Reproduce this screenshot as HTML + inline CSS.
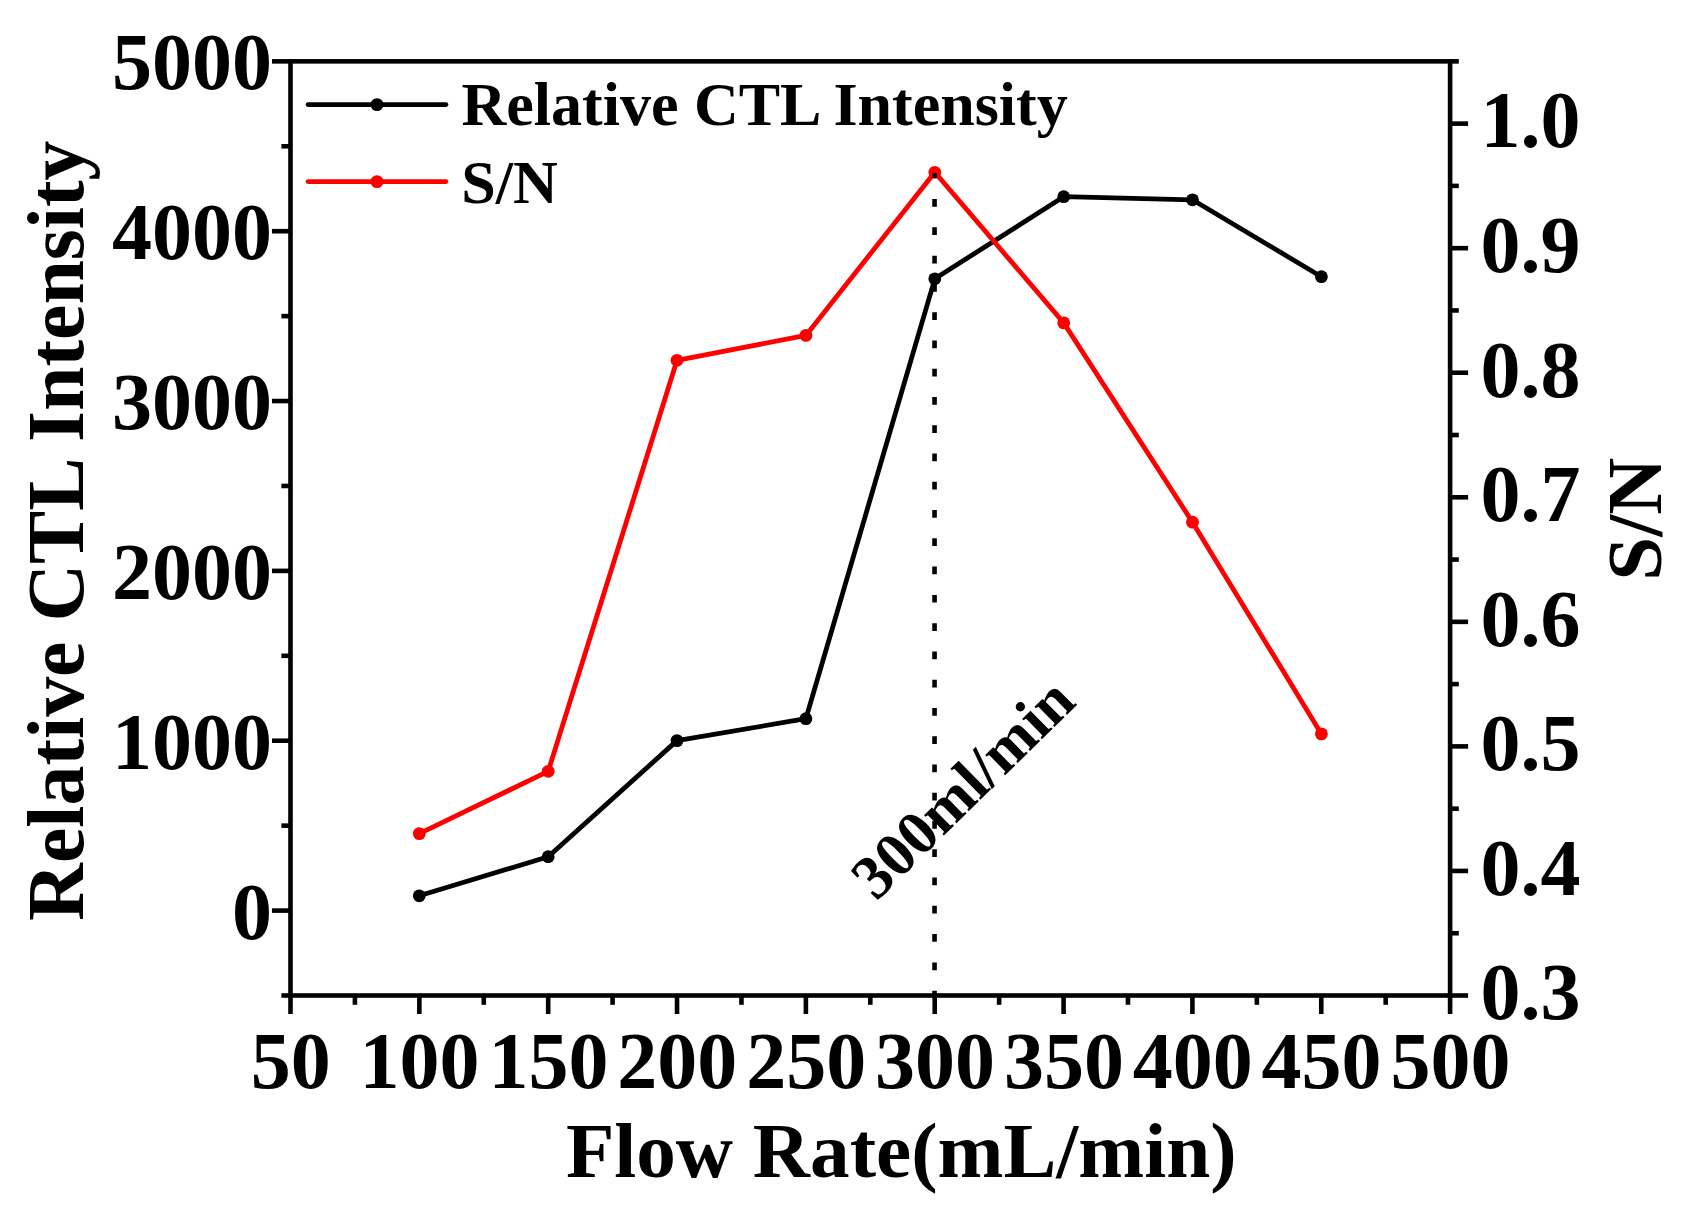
<!DOCTYPE html>
<html><head><meta charset="utf-8"><title>Flow Rate</title>
<style>
html,body{margin:0;padding:0;background:#fff;}
svg{display:block;}
text{font-family:"Liberation Serif","Times New Roman",serif;font-weight:bold;fill:#000;}
.t80{font-size:80px;}
.t62{font-size:62px;}
</style></head><body>
<svg width="1685" height="1209" viewBox="0 0 1685 1209">
<rect width="1685" height="1209" fill="#fff"/>

<g stroke="#000" stroke-width="4.6" fill="none" stroke-linecap="butt">
<rect x="290.5" y="61.35" width="1159.60" height="934.15"/>
<line x1="290.50" y1="995.5" x2="290.50" y2="1014.0"/>
<line x1="354.92" y1="995.5" x2="354.92" y2="1004.8"/>
<line x1="419.34" y1="995.5" x2="419.34" y2="1014.0"/>
<line x1="483.77" y1="995.5" x2="483.77" y2="1004.8"/>
<line x1="548.19" y1="995.5" x2="548.19" y2="1014.0"/>
<line x1="612.61" y1="995.5" x2="612.61" y2="1004.8"/>
<line x1="677.03" y1="995.5" x2="677.03" y2="1014.0"/>
<line x1="741.46" y1="995.5" x2="741.46" y2="1004.8"/>
<line x1="805.88" y1="995.5" x2="805.88" y2="1014.0"/>
<line x1="870.30" y1="995.5" x2="870.30" y2="1004.8"/>
<line x1="934.72" y1="995.5" x2="934.72" y2="1014.0"/>
<line x1="999.14" y1="995.5" x2="999.14" y2="1004.8"/>
<line x1="1063.57" y1="995.5" x2="1063.57" y2="1014.0"/>
<line x1="1127.99" y1="995.5" x2="1127.99" y2="1004.8"/>
<line x1="1192.41" y1="995.5" x2="1192.41" y2="1014.0"/>
<line x1="1256.83" y1="995.5" x2="1256.83" y2="1004.8"/>
<line x1="1321.26" y1="995.5" x2="1321.26" y2="1014.0"/>
<line x1="1385.68" y1="995.5" x2="1385.68" y2="1004.8"/>
<line x1="1450.10" y1="995.5" x2="1450.10" y2="1014.0"/>
<line x1="290.5" y1="995.50" x2="281.4" y2="995.50"/>
<line x1="290.5" y1="910.58" x2="272.0" y2="910.58"/>
<line x1="290.5" y1="825.65" x2="281.4" y2="825.65"/>
<line x1="290.5" y1="740.73" x2="272.0" y2="740.73"/>
<line x1="290.5" y1="655.81" x2="281.4" y2="655.81"/>
<line x1="290.5" y1="570.89" x2="272.0" y2="570.89"/>
<line x1="290.5" y1="485.96" x2="281.4" y2="485.96"/>
<line x1="290.5" y1="401.04" x2="272.0" y2="401.04"/>
<line x1="290.5" y1="316.12" x2="281.4" y2="316.12"/>
<line x1="290.5" y1="231.20" x2="272.0" y2="231.20"/>
<line x1="290.5" y1="146.27" x2="281.4" y2="146.27"/>
<line x1="290.5" y1="61.35" x2="272.0" y2="61.35"/>
<line x1="1450.1" y1="995.50" x2="1468.1" y2="995.50"/>
<line x1="1450.1" y1="933.22" x2="1458.8" y2="933.22"/>
<line x1="1450.1" y1="870.95" x2="1468.1" y2="870.95"/>
<line x1="1450.1" y1="808.67" x2="1458.8" y2="808.67"/>
<line x1="1450.1" y1="746.39" x2="1468.1" y2="746.39"/>
<line x1="1450.1" y1="684.12" x2="1458.8" y2="684.12"/>
<line x1="1450.1" y1="621.84" x2="1468.1" y2="621.84"/>
<line x1="1450.1" y1="559.56" x2="1458.8" y2="559.56"/>
<line x1="1450.1" y1="497.29" x2="1468.1" y2="497.29"/>
<line x1="1450.1" y1="435.01" x2="1458.8" y2="435.01"/>
<line x1="1450.1" y1="372.73" x2="1468.1" y2="372.73"/>
<line x1="1450.1" y1="310.46" x2="1458.8" y2="310.46"/>
<line x1="1450.1" y1="248.18" x2="1468.1" y2="248.18"/>
<line x1="1450.1" y1="185.90" x2="1458.8" y2="185.90"/>
<line x1="1450.1" y1="123.63" x2="1468.1" y2="123.63"/>
<line x1="1450.1" y1="61.35" x2="1458.8" y2="61.35"/>
</g>
<polyline points="419.3,895.8 548.2,856.7 677.0,740.6 805.9,718.7 934.8,278.8 1063.7,196.7 1192.5,199.8 1321.4,276.7" fill="none" stroke="#000" stroke-width="4.8" stroke-linejoin="round"/>
<circle cx="419.3" cy="895.8" r="6.4" fill="#000"/>
<circle cx="548.2" cy="856.7" r="6.4" fill="#000"/>
<circle cx="677.0" cy="740.6" r="6.4" fill="#000"/>
<circle cx="805.9" cy="718.7" r="6.4" fill="#000"/>
<circle cx="934.8" cy="278.8" r="6.4" fill="#000"/>
<circle cx="1063.7" cy="196.7" r="6.4" fill="#000"/>
<circle cx="1192.5" cy="199.8" r="6.4" fill="#000"/>
<circle cx="1321.4" cy="276.7" r="6.4" fill="#000"/>
<polyline points="419.3,833.6 548.2,771.3 677.0,360.3 805.9,335.4 934.8,172.3 1063.7,322.9 1192.5,522.2 1321.4,733.9" fill="none" stroke="#ff0000" stroke-width="4.8" stroke-linejoin="round"/>
<circle cx="419.3" cy="833.6" r="6.4" fill="#ff0000"/>
<circle cx="548.2" cy="771.3" r="6.4" fill="#ff0000"/>
<circle cx="677.0" cy="360.3" r="6.4" fill="#ff0000"/>
<circle cx="805.9" cy="335.4" r="6.4" fill="#ff0000"/>
<circle cx="934.8" cy="172.3" r="6.4" fill="#ff0000"/>
<circle cx="1063.7" cy="322.9" r="6.4" fill="#ff0000"/>
<circle cx="1192.5" cy="522.2" r="6.4" fill="#ff0000"/>
<circle cx="1321.4" cy="733.9" r="6.4" fill="#ff0000"/>
<line x1="934.55" y1="173.3" x2="934.55" y2="177.9" stroke="#000" stroke-width="4.6"/>
<line x1="934.55" y1="199.1" x2="934.55" y2="995.5" stroke="#000" stroke-width="4.6" stroke-dasharray="7.74 20.53"/>
<line x1="308" y1="104.6" x2="446" y2="104.6" stroke="#000" stroke-width="4.7" stroke-linecap="round"/><circle cx="377" cy="104.6" r="6.45" fill="#000"/>
<line x1="308" y1="181.6" x2="446" y2="181.6" stroke="#ff0000" stroke-width="4.7" stroke-linecap="round"/><circle cx="377" cy="181.6" r="6.45" fill="#ff0000"/>
<text class="t62" x="461.5" y="125">Relative CTL Intensity</text>
<text class="t62" x="461.3" y="202.5">S/N</text>
<text class="t80" text-anchor="middle" x="290.8" y="1087.7">50</text>
<text class="t80" text-anchor="middle" x="419.6" y="1087.7">100</text>
<text class="t80" text-anchor="middle" x="548.5" y="1087.7">150</text>
<text class="t80" text-anchor="middle" x="677.3" y="1087.7">200</text>
<text class="t80" text-anchor="middle" x="806.2" y="1087.7">250</text>
<text class="t80" text-anchor="middle" x="935.0" y="1087.7">300</text>
<text class="t80" text-anchor="middle" x="1063.9" y="1087.7">350</text>
<text class="t80" text-anchor="middle" x="1192.7" y="1087.7">400</text>
<text class="t80" text-anchor="middle" x="1321.6" y="1087.7">450</text>
<text class="t80" text-anchor="middle" x="1450.4" y="1087.7">500</text>
<text class="t80" text-anchor="end" x="271.9" y="938.6">0</text>
<text class="t80" text-anchor="end" x="271.9" y="768.7">1000</text>
<text class="t80" text-anchor="end" x="271.9" y="598.9">2000</text>
<text class="t80" text-anchor="end" x="271.9" y="429.0">3000</text>
<text class="t80" text-anchor="end" x="271.9" y="259.2">4000</text>
<text class="t80" text-anchor="end" x="271.9" y="89.4">5000</text>
<text class="t80" x="1480.5" y="1019.3">0.3</text>
<text class="t80" x="1480.5" y="894.7">0.4</text>
<text class="t80" x="1480.5" y="770.2">0.5</text>
<text class="t80" x="1480.5" y="645.6">0.6</text>
<text class="t80" x="1480.5" y="521.1">0.7</text>
<text class="t80" x="1480.5" y="396.5">0.8</text>
<text class="t80" x="1480.5" y="272.0">0.9</text>
<text class="t80" x="1480.5" y="147.4">1.0</text>
<text text-anchor="middle" x="901.3" y="1176.8" style="font-size:79.2px">Flow Rate(mL/min)</text>
<text text-anchor="middle" transform="translate(83,530.6) rotate(-90)" style="font-size:79.8px">Relative CTL Intensity</text>
<text text-anchor="middle" transform="translate(1661,519.2) rotate(-90)" style="font-size:79px">S/N</text>
<text class="t62" transform="translate(876.3,902) rotate(-44.5)">300ml/min</text>
</svg></body></html>
